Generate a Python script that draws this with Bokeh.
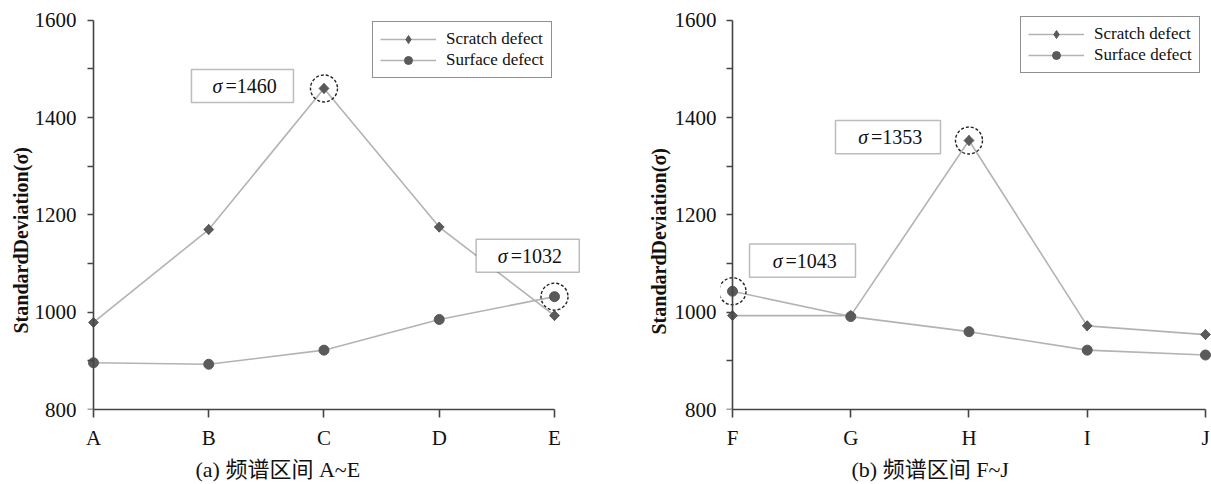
from bokeh.plotting import figure
from bokeh.models import (Range1d, FixedTicker, Label, BoxAnnotation, Legend, LegendItem,
                          LinearAxis, Title)
from bokeh.layouts import row
from bokeh.embed import file_html
from bokeh.resources import INLINE

# ---- data ----
cats_a = ["A", "B", "C", "D", "E"]
scratch_a = [979, 1170, 1460, 1175, 993]
surface_a = [896, 893, 922, 985, 1032]

cats_b = ["F", "G", "H", "I", "J"]
scratch_b = [993, 993, 1353, 972, 954]
surface_b = [1043, 991, 960, 922, 912]

y_ticks = [800, 1000, 1200, 1400, 1600]
y_all_ticks = [800, 900, 1000, 1100, 1200, 1300, 1400, 1500, 1600]
series_names = ["Scratch defect", "Surface defect"]
captions = ["(a)  频谱区间 A~E", "(b)  频谱区间 F~J"]
y_title = "StandardDeviation(σ)"

SERIF = "Liberation Serif"
LINE_C = "#b3b3b3"
MARK_C = "#5a5a5a"
AXIS_C = "#444444"
TEXT_C = "#111111"


def make_panel(cats, scratch, surface, caption, width, border_left, border_right,
               border_top, border_bottom, x_start, x_end, highlights, boxes, legend_loc,
               label_standoff, xlabel_standoff, title_standoff, caption_offset,
               ytitle_offset, ytitle_standoff):
    p = figure(width=width, height=484, output_backend="svg", toolbar_location=None,
               x_range=Range1d(x_start, x_end), y_range=Range1d(800, 1612),
               min_border_left=border_left, min_border_right=border_right,
               min_border_top=border_top, min_border_bottom=border_bottom)
    p.outline_line_color = None
    p.grid.visible = False
    p.background_fill_color = "white"

    xs = list(range(len(cats)))

    # x axis (bottom)
    xa = p.xaxis[0]
    xa.bounds = (0, len(cats) - 1)
    xa.ticker = FixedTicker(ticks=xs)
    xa.major_label_overrides = {i: c for i, c in enumerate(cats)}
    xa.major_tick_out = 8
    xa.major_tick_in = 0
    xa.minor_tick_out = 0
    xa.minor_tick_in = 0
    xa.major_label_standoff = xlabel_standoff
    xa.axis_line_color = AXIS_C
    xa.axis_line_width = 1.6
    xa.major_tick_line_color = AXIS_C
    xa.major_tick_line_width = 1.6
    xa.major_label_text_font = SERIF
    xa.major_label_text_font_size = "21px"
    xa.major_label_text_color = TEXT_C

    # y axis labels (left panel, no line)
    ya = p.yaxis[0]
    ya.ticker = FixedTicker(ticks=y_ticks)
    ya.axis_line_color = None
    ya.major_tick_line_color = None
    ya.minor_tick_line_color = None
    ya.major_tick_out = 0
    ya.major_tick_in = 0
    ya.minor_tick_out = 0
    ya.minor_tick_in = 0
    ya.major_label_standoff = label_standoff
    ya.major_label_text_font = SERIF
    ya.major_label_text_font_size = "21px"
    ya.major_label_text_color = TEXT_C

    # y axis line at x = first category, ticks pointing left (minor ticks only: no labels)
    yl = LinearAxis(fixed_location=0, bounds=(800, 1600),
                    ticker=FixedTicker(ticks=[], minor_ticks=y_all_ticks),
                    major_tick_in=0, major_tick_out=0, minor_tick_in=6, minor_tick_out=0,
                    major_label_standoff=0,
                    axis_line_color=AXIS_C, axis_line_width=1.6,
                    major_tick_line_color=None,
                    minor_tick_line_color=AXIS_C, minor_tick_line_width=1.5)
    p.add_layout(yl, "right")

    # y title as a left title
    p.add_layout(Title(text=y_title, align="left", offset=ytitle_offset,
                       standoff=ytitle_standoff, text_font=SERIF, text_font_style="bold",
                       text_font_size="20px", text_color=TEXT_C), "left")

    # series
    l1 = p.line(xs, scratch, line_color=LINE_C, line_width=1.6)
    m1 = p.scatter(xs, scratch, marker="diamond", size=10,
                   fill_color=MARK_C, line_color=MARK_C)
    p.scatter(xs, scratch, marker="square", angle=0.7854, size=7,
              fill_color=MARK_C, line_color=MARK_C)
    l2 = p.line(xs, surface, line_color=LINE_C, line_width=1.6)
    m2 = p.scatter(xs, surface, marker="circle", size=10, fill_color=MARK_C, line_color=MARK_C)

    # dashed highlight circles
    for series_idx, i in highlights:
        vals = scratch if series_idx == 0 else surface
        p.scatter([xs[i]], [vals[i]], marker="circle", size=27, fill_color=None,
                  line_color="#222222", line_dash="3 2", line_width=1.4)

    # annotation boxes
    for (l, r, t, b, txt) in boxes:
        p.add_layout(BoxAnnotation(left=l, right=r, top=t, bottom=b, fill_color="white",
                                   fill_alpha=1.0, line_color="#222222", line_width=1.5,
                                   level="annotation"))
        cx = (l + r) / 2
        cy = (t + b) / 2
        p.add_layout(Label(x=cx, y=cy, x_offset=-20, text="σ", text_font=SERIF,
                           text_font_style="italic", text_font_size="20px",
                           text_align="right", text_baseline="middle", text_color=TEXT_C))
        p.add_layout(Label(x=cx, y=cy, x_offset=-17, text="=" + txt, text_font=SERIF,
                           text_font_size="20px", text_align="left",
                           text_baseline="middle", text_color=TEXT_C))

    # legend
    legend = Legend(items=[LegendItem(label=series_names[0], renderers=[l1, m1]),
                           LegendItem(label=series_names[1], renderers=[l2, m2])],
                    location=legend_loc, orientation="vertical")
    legend.border_line_color = "#222222"
    legend.border_line_width = 1.6
    legend.background_fill_color = "white"
    legend.background_fill_alpha = 1.0
    legend.label_text_font = SERIF
    legend.label_text_font_size = "17px"
    legend.label_text_color = TEXT_C
    legend.glyph_width = 56
    legend.label_standoff = 10
    legend.padding = 7
    legend.spacing = 1
    legend.label_height = 20
    legend.glyph_height = 20
    legend.margin = 0
    p.add_layout(legend)

    # caption as title below
    p.title.text = caption
    p.title_location = "below"
    p.title.align = "left"
    p.title.offset = caption_offset
    p.title.standoff = title_standoff
    p.title.text_font = SERIF + ", Noto Sans CJK SC"
    p.title.text_font_size = "22px"
    p.title.text_font_style = "normal"
    p.title.text_color = TEXT_C
    return p


pa = make_panel(cats_a, scratch_a, surface_a, captions[0], width=605,
                border_left=81, border_right=22, border_top=14, border_bottom=75,
                x_start=-0.104, x_end=4.2516,
                highlights=[(0, 2), (1, 4)],
                boxes=[(0.85, 1.735, 1499, 1431, str(scratch_a[2])),
                       (3.32, 4.215, 1150, 1082, str(surface_a[4]))],
                legend_loc=(291, 331), label_standoff=5, xlabel_standoff=8,
                title_standoff=5, caption_offset=114, ytitle_offset=76, ytitle_standoff=0)

pb = make_panel(cats_b, scratch_b, surface_b, captions[1], width=606,
                border_left=115, border_right=0, border_top=14, border_bottom=75,
                x_start=-0.1015, x_end=4.051,
                highlights=[(0, 2), (1, 0)],
                boxes=[(0.871, 1.759, 1394, 1326, str(scratch_b[2])),
                       (0.144, 1.04, 1140, 1072, str(surface_b[0]))],
                legend_loc=(300, 336), label_standoff=4, xlabel_standoff=8,
                title_standoff=5, caption_offset=131, ytitle_offset=75, ytitle_standoff=3)

layout = row(pa, pb)
open("out.html", "w").write(file_html(layout, INLINE))
